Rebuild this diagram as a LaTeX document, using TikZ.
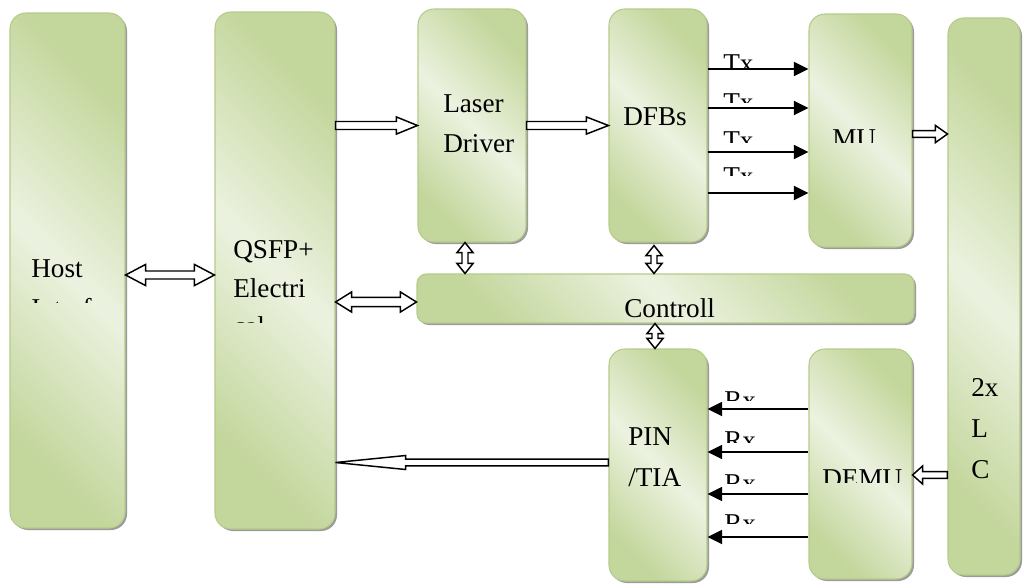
\documentclass[tikz,border=0pt]{standalone}
\usepackage{fontspec}
\setmainfont{Liberation Serif}
\usetikzlibrary{arrows.meta,calc,fit,shadows}
\definecolor{gDark}{RGB}{195,214,155}
\definecolor{gLight}{RGB}{236,242,224}
\definecolor{boxline}{RGB}{182,203,138}
\begin{document}
\begin{tikzpicture}[
        x=0.75pt,y=-0.75pt,
        font=\fontsize{20.4}{30}\selectfont
    ]
    \tikzset{
        blk/.style = {draw=boxline, line width=0.8pt, inner sep=0pt, rounded corners=12pt,
            top color=gDark, bottom color=gDark, middle color=gLight, shading angle=-45,
            drop shadow={shadow xshift=1.5pt, shadow yshift=-1.5pt, fill=black!60, opacity=.65}},
        lbl/.style = {inner sep=0pt, anchor=base west},
        hollow/.style = {draw=black, fill=white, line width=1.1pt, line join=miter},
        barrow/.style n args={3}{to path={
            let \p1=(\tikztostart), \p2=(\tikztotarget),
                \n1={atan2(\y2-\y1,\x2-\x1)}, \n2={veclen(\x2-\x1,\y2-\y1)} in
            {[shift={(\p1)}, rotate=\n1]
              (0pt,-#1) -- (\n2-#3,-#1) -- (\n2-#3,-#2) -- (\n2+0pt,0pt)
              -- (\n2-#3,#2) -- (\n2-#3,#1) -- (0pt,#1) -- cycle}}},
        dbarrow/.style n args={3}{to path={
            let \p1=(\tikztostart), \p2=(\tikztotarget),
                \n1={atan2(\y2-\y1,\x2-\x1)}, \n2={veclen(\x2-\x1,\y2-\y1)} in
            {[shift={(\p1)}, rotate=\n1]
              (0pt,0pt) -- (#3,-#2) -- (#3,-#1) -- (\n2-#3,-#1) -- (\n2-#3,-#2)
              -- (\n2+0pt,0pt) -- (\n2-#3,#2) -- (\n2-#3,#1) -- (#3,#1) -- (#3,#2) -- cycle}}},
        sig/.style = {line width=1.4pt, -{Triangle[length=11pt,width=10.5pt]}},
    }
    \useasboundingbox (0,0) rectangle (1023,583);

    \node[blk, fit={(10,13) (125,528)}] (host) {};
    \node[blk, fit={(215,12) (335,529)}] (qsfp) {};
    \node[blk, fit={(418,9) (526,242)}] (ld) {};
    \node[blk, fit={(609,9) (707,242)}] (dfb) {};
    \node[blk, fit={(809,14) (912,247)}] (mux) {};
    \node[blk, fit={(948,18) (1020,575)}] (lc) {};
    \node[blk, rounded corners=7pt, fit={(417,274) (914,323)}] (ctl) {};
    \node[blk, fit={(609,349) (707,581)}] (pin) {};
    \node[blk, fit={(809,349) (912,579)}] (demux) {};

    \node[lbl] (hostA) at (31,277) {Host};
    \begin{scope}
        \clip (20,285) rectangle (125,302.5);
        \node[lbl] (hostB) at (31,317) {Interface};
    \end{scope}
    \node[lbl] (qsfpA) at (233,258) {QSFP+};
    \node[lbl] (qsfpB) at (233,297) {Electri};
    \begin{scope}
        \clip (225,305) rectangle (335,322.5);
        \node[lbl] (qsfpC) at (233,335) {cal};
    \end{scope}
    \node[lbl] (ldA) at (443,112) {Laser};
    \node[lbl] (ldB) at (443,152) {Driver};
    \node[lbl] (dfbA) at (623,125) {DFBs};
    \begin{scope}
        \clip (815,120) rectangle (905,142);
        \node[lbl] (muxA) at (832,147.5) {MU};
    \end{scope}
    \node[lbl] (ctlA) at (624,317) {Controll};
    \node[lbl] (pinA) at (628,445) {PIN};
    \node[lbl] (pinB) at (628,486) {/TIA};
    \begin{scope}
        \clip (815,460) rectangle (905,482);
        \node[lbl] (demuxA) at (822,487.5) {DEMU};
    \end{scope}
    \node[lbl] (lcA) at (971,396) {2x};
    \node[lbl] (lcB) at (971,437) {L};
    \node[lbl] (lcC) at (971,478) {C};

    \foreach \ty/\tb/\tc in {69/72.5/67,108/111.5/102,152/149.5/142,193/185.5/175}{
        \draw[sig] (dfb.east |- 0,\ty) -- (mux.west |- 0,\ty);
        \begin{scope}
            \clip (715,\tb-25) rectangle (780,\tc);
            \node[lbl] (tx\ty) at (723,\tb) {Tx};
        \end{scope}
    }
    \foreach \ry/\rb/\rc in {409/409.5/400,452/449.5/442,494/492.5/483,537/532.5/523}{
        \draw[sig] (demux.west |- 0,\ry) -- (pin.east |- 0,\ry);
        \begin{scope}
            \clip (715,\rb-25) rectangle (780,\rc);
            \node[lbl] (rx\ry) at (724,\rb) {Rx};
        \end{scope}
    }

    \draw[hollow] ($(host.east)+(0,4.5)$) to[dbarrow={3pt}{7.9pt}{15pt}] ($(qsfp.west)+(0,4.5)$);
    \draw[hollow] ($(qsfp.east |- ctl.west)+(0,3.5)$) to[dbarrow={3.4pt}{7.5pt}{12pt}] ($(ctl.west)+(0,3.5)$);
    \draw[hollow] (qsfp.east |- ld.west) to[barrow={3pt}{6.4pt}{15.75pt}] (ld.west);
    \draw[hollow] (ld.east) to[barrow={3pt}{6.4pt}{16.5pt}] (dfb.west);
    \draw[hollow] ($(mux.east)+(0,3.5)$) to[barrow={2.5pt}{6.4pt}{9pt}] ($(mux.east -| lc.west)+(0,3.5)$);
    \draw[hollow] ($(pin.west)+(0,-2.5)$) to[barrow={2.6pt}{5.25pt}{52.5pt}] ($(pin.west -| qsfp.east)+(0,-2.5)$);
    \draw[hollow] (lc.west |- 0,475) to[barrow={2.6pt}{6.75pt}{7.5pt}] (demux.east |- 0,475);
    \draw[hollow] ($(ld.south)+(-7,0)$) to[dbarrow={2.25pt}{6pt}{7.5pt}] ($(ld.south |- ctl.north)+(-7,0)$);
    \draw[hollow] ($(dfb.south)+(-4,3)$) to[dbarrow={2.25pt}{6pt}{7.5pt}] ($(dfb.south |- ctl.north)+(-4,0)$);
    \draw[hollow] ($(ctl.south -| pin.north)+(-3,0)$) to[dbarrow={2.25pt}{6pt}{7.5pt}] ($(pin.north)+(-3,0)$);
\end{tikzpicture}
\end{document}
